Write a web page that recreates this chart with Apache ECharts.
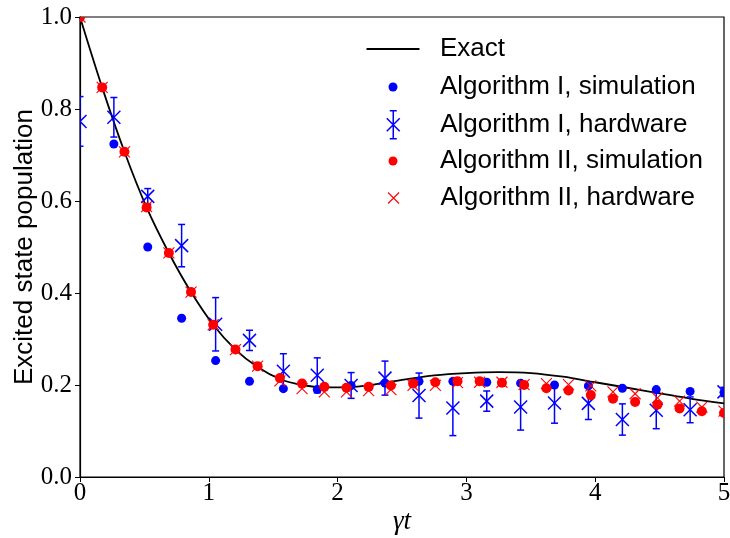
<!DOCTYPE html>
<html>
<head>
<meta charset="utf-8">
<script src="https://cdn.jsdelivr.net/npm/echarts@6/dist/echarts.min.js"></script>
<style>html,body{margin:0;padding:0;background:#fff}#c{width:730px;height:538px}</style>
</head>
<body>
<div id="c"></div>
<script>
// ---- data ----
const xTicks = [0, 1, 2, 3, 4, 5];
const yTicks = [0.0, 0.2, 0.4, 0.6, 0.8, 1.0];

const exactT = [0, 0.172, 0.345, 0.517, 0.690, 0.862, 1.034, 1.207, 1.379, 1.552, 1.724, 1.897, 2.069, 2.25, 2.5, 2.75, 3.0, 3.25, 3.5, 3.75, 4.0, 4.25, 4.5, 4.75, 5.0];
const exactP = [1.0, 0.847, 0.707, 0.586, 0.487, 0.402, 0.331, 0.277, 0.239, 0.213, 0.200, 0.195, 0.195, 0.200, 0.211, 0.221, 0.226, 0.228, 0.226, 0.218, 0.206, 0.194, 0.182, 0.170, 0.160];

const alg1T = [0, 0.263, 0.526, 0.789, 1.053, 1.316, 1.579, 1.842, 2.105, 2.368, 2.632, 2.895, 3.158, 3.421, 3.684, 3.947, 4.211, 4.474, 4.737, 5.0];
const alg1Sim = [1.0, 0.724, 0.500, 0.345, 0.253, 0.208, 0.192, 0.190, 0.199, 0.204, 0.208, 0.208, 0.206, 0.204, 0.200, 0.198, 0.193, 0.190, 0.186, 0.184];
const alg1Hw = [0.773, 0.782, 0.610, 0.503, 0.332, 0.297, 0.230, 0.221, 0.199, 0.215, 0.177, 0.150, 0.165, 0.152, 0.161, 0.160, 0.125, 0.145, 0.146, 0.185];
const alg1Err = [0.054, 0.043, 0.017, 0.046, 0.058, 0.022, 0.038, 0.038, 0.028, 0.037, 0.049, 0.060, 0.022, 0.050, 0.044, 0.035, 0.034, 0.040, 0.028, 0.010];

const alg2T = [0, 0.172, 0.345, 0.517, 0.690, 0.862, 1.034, 1.207, 1.379, 1.552, 1.724, 1.897, 2.069, 2.241, 2.414, 2.586, 2.759, 2.931, 3.103, 3.276, 3.448, 3.621, 3.793, 3.966, 4.138, 4.310, 4.483, 4.655, 4.828, 5.0];
const alg2Sim = [1.0, 0.847, 0.707, 0.586, 0.487, 0.402, 0.331, 0.277, 0.241, 0.215, 0.203, 0.196, 0.194, 0.196, 0.199, 0.203, 0.206, 0.208, 0.208, 0.205, 0.200, 0.193, 0.188, 0.178, 0.170, 0.163, 0.157, 0.149, 0.143, 0.139];
const alg2Hw = [1.0, 0.847, 0.707, 0.588, 0.487, 0.402, 0.331, 0.277, 0.241, 0.209, 0.192, 0.185, 0.185, 0.188, 0.190, 0.199, 0.199, 0.205, 0.206, 0.206, 0.201, 0.203, 0.201, 0.198, 0.185, 0.181, 0.172, 0.165, 0.152, 0.143];

const names = ['Exact', 'Algorithm I, simulation', 'Algorithm I, hardware', 'Algorithm II, simulation', 'Algorithm II, hardware'];

// ---- chart ----
const BLUE = '#0000ff', RED = '#ff0000';
const serif = 'Liberation Serif';
const sans = 'Liberation Sans';
const pair = (xs, ys) => xs.map((x, i) => [x, ys[i]]);

const chart = echarts.init(document.getElementById('c'), null, {renderer: 'canvas'});

function legendItem(name, top, W, H, icon, itemStyle) {
  const left = 393 - W / 2;
  const pad = 440 - (left + W + 5);
  return {
    data: [{name: name, icon: icon}], left: left, top: top, orient: 'vertical', padding: 0,
    itemWidth: W, itemHeight: H, selectedMode: false, itemStyle: itemStyle,
    textStyle: {fontFamily: sans, fontSize: 26, color: '#000', lineHeight: 28, padding: [0, 0, 0, pad]}
  };
}

function dotRenderer(color, r) {
  return function (params, api) {
    const c = api.coord([api.value(0), api.value(1)]);
    return {type: 'circle', shape: {cx: c[0], cy: c[1], r: r}, style: {fill: color, stroke: null}};
  };
}
function crossRenderer(color, s, lw) {
  return function (params, api) {
    const c = api.coord([api.value(0), api.value(1)]);
    const st = {stroke: color, lineWidth: lw, fill: null};
    return {type: 'group', children: [
      {type: 'line', shape: {x1: c[0] - s, y1: c[1] - s, x2: c[0] + s, y2: c[1] + s}, style: st},
      {type: 'line', shape: {x1: c[0] - s, y1: c[1] + s, x2: c[0] + s, y2: c[1] - s}, style: st}
    ]};
  };
}

const option = {
  animation: false,
  backgroundColor: '#fff',
  grid: {left: 80, right: 6, top: 17, bottom: 61, containLabel: false, outerBoundsMode: 'none',
         show: true, borderColor: '#000', borderWidth: 1.2, backgroundColor: 'transparent'},
  xAxis: {
    type: 'value', min: xTicks[0], max: xTicks[xTicks.length - 1], interval: 1,
    axisLine: {lineStyle: {color: '#000', width: 1.2}},
    axisTick: {length: 5, lineStyle: {color: '#000', width: 1}},
    splitLine: {show: false},
    axisLabel: {fontFamily: serif, fontSize: 25, color: '#000', margin: 4},
    name: 'γt', nameLocation: 'middle', nameGap: 31, nameMoveOverlap: false,
    nameTextStyle: {fontFamily: serif, fontStyle: 'italic', fontSize: 27, color: '#000'}
  },
  yAxis: {
    type: 'value', min: yTicks[0], max: yTicks[yTicks.length - 1], interval: 0.2,
    axisLine: {lineStyle: {color: '#000', width: 1.2}},
    axisTick: {length: 5, lineStyle: {color: '#000', width: 1}},
    splitLine: {show: false},
    axisLabel: {fontFamily: serif, fontSize: 25, color: '#000', margin: 8, formatter: v => v.toFixed(1)},
    name: 'Excited state population', nameLocation: 'middle', nameGap: 42, nameMoveOverlap: false,
    nameTextStyle: {fontFamily: sans, fontSize: 26, color: '#000'}
  },
  legend: [
    legendItem(names[0], 35, 53, 14, 'path://M0,0L53,0L53,1.8L0,1.8Z', {color: '#000', borderWidth: 0}),
    legendItem(names[1], 73, 9, 9, 'circle', {color: BLUE, borderWidth: 0}),
    legendItem(names[2], 110, 14, 28, 'path://M7,0L7,28M3.5,0L10.5,0M3.5,28L10.5,28M0.5,7.5L13.5,20.5M13.5,7.5L0.5,20.5',
               {color: 'rgba(0,0,0,0)', borderColor: BLUE, borderWidth: 1.5}),
    legendItem(names[3], 147, 9, 9, 'circle', {color: RED, borderWidth: 0}),
    legendItem(names[4], 184, 11, 11, 'path://M0,0L10,10M10,0L0,10',
               {color: 'rgba(0,0,0,0)', borderColor: RED, borderWidth: 1.1})
  ],
  series: [
    {
      name: names[0], type: 'line', data: pair(exactT, exactP), symbol: 'none', showSymbol: false, smooth: 0.35,
      lineStyle: {color: '#000', width: 1.8}, itemStyle: {color: '#000'}, clip: true, z: 2
    },
    {
      name: names[1], type: 'custom', clip: true, z: 3, encode: {x: 0, y: 1},
      data: pair(alg1T, alg1Sim), itemStyle: {color: BLUE},
      renderItem: dotRenderer(BLUE, 4.5)
    },
    {
      name: names[2], type: 'custom', clip: true, z: 4, encode: {x: 0, y: 1},
      data: alg1T.map((x, i) => [x, alg1Hw[i], alg1Err[i]]),
      itemStyle: {color: BLUE},
      renderItem: function (params, api) {
        const x = api.value(0), y = api.value(1), e = api.value(2);
        const c = api.coord([x, y]);
        const t = api.coord([x, y + e]);
        const b = api.coord([x, y - e]);
        const cap = 3.5, s = 6.5;
        const st = {stroke: BLUE, lineWidth: 1.5, fill: null};
        return {
          type: 'group',
          children: [
            {type: 'line', shape: {x1: c[0], y1: t[1], x2: c[0], y2: b[1]}, style: st},
            {type: 'line', shape: {x1: c[0] - cap, y1: t[1], x2: c[0] + cap, y2: t[1]}, style: st},
            {type: 'line', shape: {x1: c[0] - cap, y1: b[1], x2: c[0] + cap, y2: b[1]}, style: st},
            {type: 'line', shape: {x1: c[0] - s, y1: c[1] - s, x2: c[0] + s, y2: c[1] + s}, style: st},
            {type: 'line', shape: {x1: c[0] - s, y1: c[1] + s, x2: c[0] + s, y2: c[1] - s}, style: st}
          ]
        };
      }
    },
    {
      name: names[3], type: 'custom', clip: true, z: 5, encode: {x: 0, y: 1},
      data: pair(alg2T, alg2Sim), itemStyle: {color: RED},
      renderItem: dotRenderer(RED, 5)
    },
    {
      name: names[4], type: 'custom', clip: true, z: 6, encode: {x: 0, y: 1},
      data: pair(alg2T, alg2Hw), itemStyle: {color: RED},
      renderItem: crossRenderer(RED, 5.5, 1.1)
    }
  ]
};
chart.setOption(option);
</script>
</body>
</html>
